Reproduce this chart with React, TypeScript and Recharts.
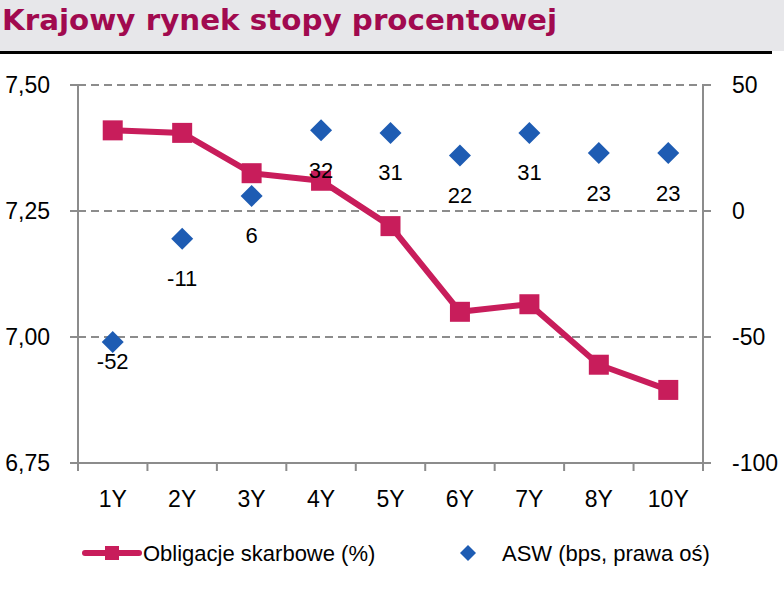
import React from "react";
import {
  ComposedChart,
  Line,
  XAxis,
  YAxis,
  CartesianGrid,
} from "recharts";

const tenors = ["1Y", "2Y", "3Y", "4Y", "5Y", "6Y", "7Y", "8Y", "10Y"];
const bondYields = [7.41, 7.405, 7.325, 7.31, 7.22, 7.05, 7.065, 6.945, 6.895];
const aswSpread = [-52, -11, 6, 32, 31, 22, 31, 23, 23];

const leftTicks = [6.75, 7.0, 7.25, 7.5];
const rightTicks = [-100, -50, 0, 50];

const title = "Krajowy rynek stopy procentowej";
const bondLabel = "Obligacje skarbowe (%)";
const aswLabel = "ASW (bps, prawa oś)";

const data = tenors.map((t, i) => ({
  tenor: t,
  yield: bondYields[i],
  asw: aswSpread[i],
}));

const W = 784;
const H = 590;
const PLOT_LEFT = 78;
const PLOT_RIGHT = 703;
const BAND = (PLOT_RIGHT - PLOT_LEFT) / tenors.length;

const FONT = "'Liberation Sans', Arial, sans-serif";
const TITLE_FONT = "'DejaVu Sans', Verdana, sans-serif";
const PINK = "#C81D5B";
const BLUE = "#1E5CB3";
const GREY = "#8C8C8C";

const SquareDot = (props: any) => {
  const { cx, cy } = props;
  if (cx == null || cy == null) return null;
  return <rect x={cx - 10} y={cy - 10} width={20} height={20} fill={PINK} />;
};

const DiamondDot = (props: any) => {
  const { cx, cy } = props;
  if (cx == null || cy == null) return null;
  const r = 11;
  return (
    <path
      d={`M${cx},${cy - r} L${cx + r},${cy} L${cx},${cy + r} L${cx - r},${cy} Z`}
      fill={BLUE}
    />
  );
};

const AswLabel = (props: any) => {
  const { x, y, value, index } = props;
  // first label sits closer to its marker in the original
  const dy = index === 0 ? 19 : 40;
  return (
    <text
      x={x}
      y={y + dy}
      textAnchor="middle"
      dominantBaseline="central"
      fontSize={22}
      fontFamily={FONT}
      fill="#000"
    >
      {value}
    </text>
  );
};

const TenorTick = (props: any) => {
  const { x, y, payload, index } = props;
  const left = x - BAND / 2;
  return (
    <g>
      <line x1={left} y1={y} x2={left} y2={y + 8} stroke={GREY} strokeWidth={2} />
      {index === tenors.length - 1 && (
        <line x1={x + BAND / 2} y1={y} x2={x + BAND / 2} y2={y + 8} stroke={GREY} strokeWidth={2} />
      )}
      <text
        x={x}
        y={y + 36}
        textAnchor="middle"
        dominantBaseline="central"
        fontSize={23}
        fontFamily={FONT}
        fill="#000"
      >
        {payload.value}
      </text>
    </g>
  );
};

const fmtLeft = (v: number) => v.toFixed(2).replace(".", ",");

export default function App() {
  return (
    <div
      style={{
        position: "absolute",
        left: 0,
        top: 0,
        width: W,
        height: H,
        background: "#fff",
        overflow: "hidden",
      }}
    >
      <svg
        width={W}
        height={56}
        style={{ position: "absolute", left: 0, top: 0 }}
      >
        <rect x={0} y={0} width={W} height={51} fill="#E7E7EA" />
        <rect x={0} y={51} width={772} height={3} fill="#000" />
        <text
          x={2}
          y={30}
          fontSize={29}
          fontWeight={700}
          fontFamily={TITLE_FONT}
          fill="#A10A4F"
          textLength={555}
          lengthAdjust="spacingAndGlyphs"
        >
          {title}
        </text>
      </svg>

      <div style={{ position: "absolute", left: 0, top: 0 }}>
        <ComposedChart
          width={W}
          height={H}
          data={data}
          margin={{ top: 85, right: 0, bottom: 67, left: 0 }}
        >
          <CartesianGrid
            yAxisId="left"
            vertical={false}
            stroke={GREY}
            strokeWidth={2}
            strokeDasharray="8 5"
          />
          <XAxis
            dataKey="tenor"
            scale="band"
            height={60}
            axisLine={{ stroke: GREY, strokeWidth: 2 }}
            tickLine={false}
            tickSize={0}
            tickMargin={0}
            interval={0}
            tick={<TenorTick />}
          />
          <YAxis
            yAxisId="left"
            orientation="left"
            width={78}
            domain={[6.75, 7.5]}
            ticks={leftTicks}
            tickFormatter={fmtLeft}
            axisLine={{ stroke: GREY, strokeWidth: 2 }}
            tickLine={{ stroke: GREY, strokeWidth: 2 }}
            tickSize={8}
            tickMargin={20}
            tick={{ fontSize: 23, fontFamily: FONT, fill: "#000" }}
            allowDataOverflow
          />
          <YAxis
            yAxisId="right"
            orientation="right"
            width={81}
            domain={[-100, 50]}
            ticks={rightTicks}
            axisLine={{ stroke: GREY, strokeWidth: 2 }}
            tickLine={{ stroke: GREY, strokeWidth: 2 }}
            tickSize={8}
            tickMargin={21}
            tick={{ fontSize: 23, fontFamily: FONT, fill: "#000", textAnchor: "start" }}
            allowDataOverflow
          />
          <Line
            yAxisId="left"
            dataKey="yield"
            stroke={PINK}
            strokeWidth={6}
            dot={<SquareDot />}
            activeDot={false}
            isAnimationActive={false}
          />
          <Line
            yAxisId="right"
            dataKey="asw"
            stroke="none"
            strokeWidth={0}
            dot={<DiamondDot />}
            activeDot={false}
            label={<AswLabel />}
            isAnimationActive={false}
          />
        </ComposedChart>
      </div>

      <svg
        width={W}
        height={40}
        style={{ position: "absolute", left: 0, top: 533 }}
      >
        <line x1={85} y1={20} x2={139} y2={20} stroke={PINK} strokeWidth={6} strokeLinecap="round" />
        <rect x={105} y={13} width={14} height={14} fill={PINK} />
        <text x={143} y={20} dominantBaseline="central" fontSize={22} fontFamily={FONT} fill="#000">
          {bondLabel}
        </text>
        <path d="M468,12 L476,20 L468,28 L460,20 Z" fill={BLUE} />
        <text x={502} y={20} dominantBaseline="central" fontSize={22} fontFamily={FONT} fill="#000">
          {aswLabel}
        </text>
      </svg>
    </div>
  );
}
